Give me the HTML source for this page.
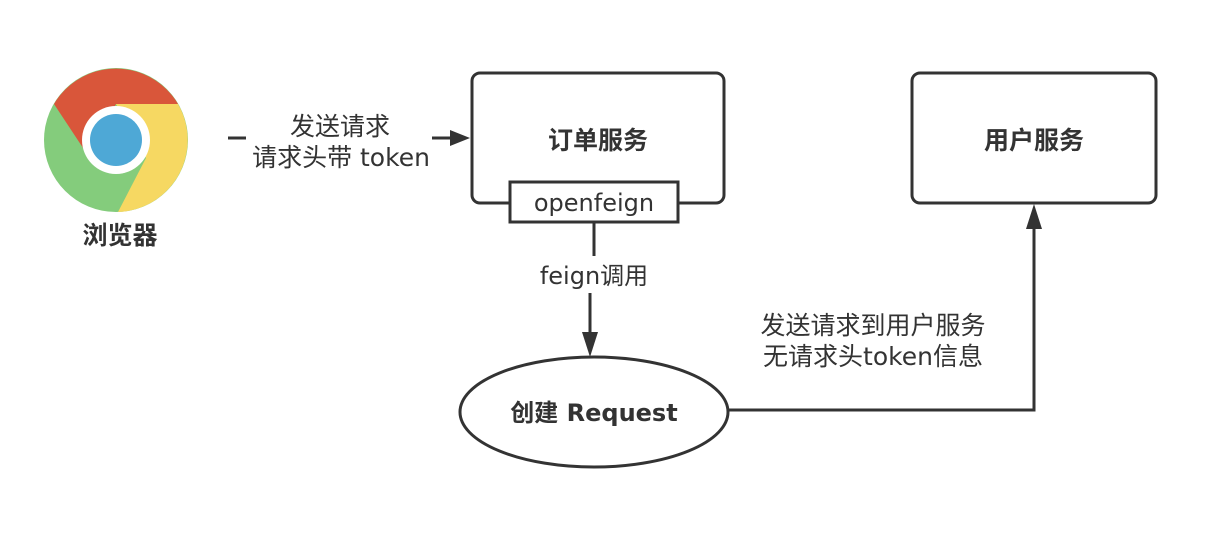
<!DOCTYPE html>
<html><head><meta charset="utf-8"><style>
html,body{margin:0;padding:0;background:#fff;}
svg{display:block;font-family:"DejaVu Sans","Noto Sans CJK SC",sans-serif;}
</style></head><body>
<svg width="1225" height="541" viewBox="0 0 1225 541" xmlns="http://www.w3.org/2000/svg">
<rect width="1225" height="541" fill="#fff"/>
<!-- chrome icon -->
<g transform="translate(116,140)">
  <circle r="72" fill="#84cc7c"/>
  <path d="M-62,-36 A72,72 0 0 1 62,-36 L0,-36 L-29,14 Z" fill="#d9563a"/>
  <path d="M62,-36 A72,72 0 0 1 2,72 L30,18 L0,-36 Z" fill="#f6d862"/>
  <circle r="34" fill="#fff"/>
  <circle r="26" fill="#4ea8d6"/>
</g>
<text x="120" y="244" font-size="25" font-weight="bold" fill="#333" text-anchor="middle">浏览器</text>
<!-- arrow browser -> order -->
<line x1="228" y1="138" x2="246" y2="138" stroke="#333" stroke-width="3"/>
<line x1="432" y1="138" x2="452" y2="138" stroke="#333" stroke-width="3"/>
<polygon points="470,138 450,130 450,146" fill="#333"/>
<text x="340" y="135" font-size="25" fill="#333" text-anchor="middle">发送请求</text>
<text x="341" y="166" font-size="25" fill="#333" text-anchor="middle">请求头带 token</text>
<!-- order service -->
<rect x="472" y="73" width="252" height="130" rx="8" fill="#fff" stroke="#333" stroke-width="3"/>
<text x="598" y="149" font-size="25" font-weight="bold" fill="#333" text-anchor="middle">订单服务</text>
<rect x="510" y="182" width="168" height="40" fill="#fff" stroke="#333" stroke-width="3"/>
<text x="594" y="211" font-size="24" fill="#333" text-anchor="middle">openfeign</text>
<!-- user service -->
<rect x="912" y="73" width="244" height="130" rx="8" fill="#fff" stroke="#333" stroke-width="3"/>
<text x="1034" y="149" font-size="25" font-weight="bold" fill="#333" text-anchor="middle">用户服务</text>
<!-- feign call -->
<line x1="594" y1="222" x2="594" y2="256" stroke="#333" stroke-width="3"/>
<text x="594" y="284" font-size="24" fill="#333" text-anchor="middle">feign调用</text>
<line x1="590" y1="293" x2="590" y2="335" stroke="#333" stroke-width="3"/>
<polygon points="590,357 582,332 598,332" fill="#333"/>
<!-- ellipse -->
<ellipse cx="594" cy="412" rx="134" ry="55" fill="#fff" stroke="#333" stroke-width="3"/>
<text x="594" y="421" font-size="24" font-weight="bold" fill="#333" text-anchor="middle">创建 Request</text>
<!-- to user service -->
<polyline points="728,410 1034,410 1034,226" fill="none" stroke="#333" stroke-width="3"/>
<polygon points="1034,204 1026,229 1042,229" fill="#333"/>
<text x="873" y="334" font-size="25" fill="#333" text-anchor="middle">发送请求到用户服务</text>
<text x="873" y="365" font-size="25" fill="#333" text-anchor="middle">无请求头token信息</text>
</svg>
</body></html>
